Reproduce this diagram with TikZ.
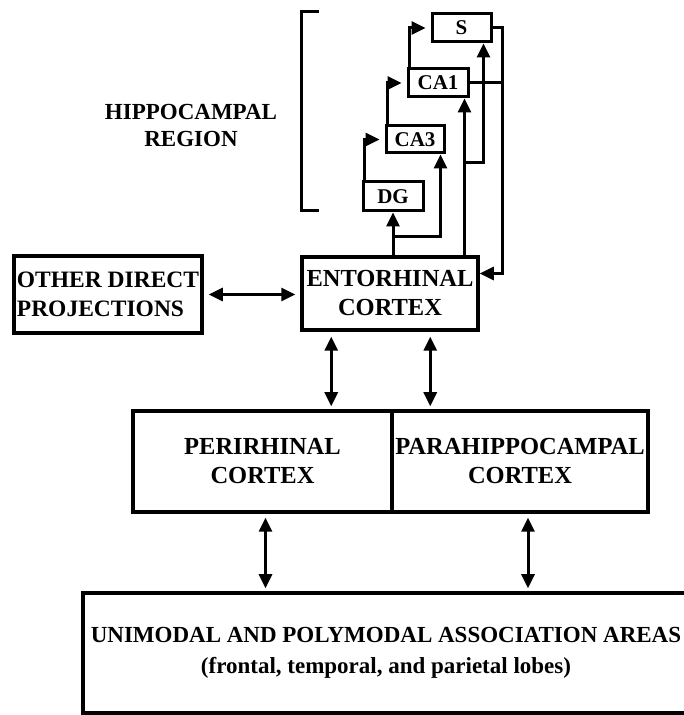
\documentclass[tikz,border=0pt]{standalone}
\usepackage{fontspec}
\setmainfont{Liberation Serif}
\usepackage{tikz}
\usetikzlibrary{arrows.meta}
\tikzstyle{block}=[draw, line width=3.5pt, inner sep=0pt, align=center, font=\fontsize{24.5}{29}\selectfont\bfseries]
\tikzstyle{sblock}=[block, line width=3pt, minimum width=59pt, minimum height=28pt, font=\fontsize{21}{24}\selectfont\bfseries]
\tikzstyle{link}=[line width=3pt]
\tikzstyle{arr}=[link, -{Triangle[length=14pt, width=13pt]}]
\tikzstyle{darr}=[link, {Triangle[length=14pt, width=13pt]}-{Triangle[length=14pt, width=13pt]}]

\begin{document}
\begin{tikzpicture}[x=1pt, y=1pt]
        \useasboundingbox (0, 0) rectangle (683, 715);
        \node[sblock] (S) at (461.5, 687) {S};
        \node[sblock, minimum width=60pt] (CA1) at (438, 632) {CA1};
        \node[sblock, minimum width=58pt, minimum height=27pt] (CA3) at (415, 575.5) {CA3};
        \node[sblock, minimum width=60pt, minimum height=29pt] (DG) at (393, 518.5) {DG};
        \node[block, minimum width=176pt, minimum height=73pt] (EC) at (390, 421.5) {ENTORHINAL\\CORTEX};
        \node[block, minimum width=188pt, minimum height=77pt, align=left, font=\fontsize{23.5}{28.5}\selectfont\bfseries] (OD) at (108, 420.5) {OTHER DIRECT\\PROJECTIONS};
        \node[block, minimum width=259pt, minimum height=101pt] (PRC) at (262.5, 253.5) {PERIRHINAL\\CORTEX};
        \node[block, minimum width=256pt, minimum height=101pt] (PHC) at (520, 253.5) {PARAHIPPOCAMPAL\\CORTEX};
        \node[block, minimum width=606pt, minimum height=120pt, font=\fontsize{23}{31}\selectfont\bfseries] (UA) at (386, 62) {UNIMODAL AND POLYMODAL ASSOCIATION AREAS\\(frontal, temporal, and parietal lobes)};
        \node[align=center, font=\fontsize{23}{27}\selectfont\bfseries] (HR) at (191, 589.5) {HIPPOCAMPAL\\REGION};
        \draw[link] (319, 703) -| (301, 504) -- (319, 504);
        \draw[arr, shorten >=5pt] ([xshift=3pt]DG.north west) |- (CA3.west);
        \draw[arr, shorten >=5pt] ([xshift=3pt]CA3.north west) |- (CA1.west);
        \draw[arr, shorten >=5pt] ([xshift=3pt]CA1.north west) |- (S.west);
        \path (DG.south |- EC.north) ++(0, 19) coordinate (dgfork);
        \path ([xshift=-5pt]CA1.south east) coordinate (ca1in);
        \path (ca1in |- EC.north) ++(0, 93) coordinate (ca1fork);
        \path (S.east) ++(10, 0) coordinate (sret);
        \path (EC.east) ++(0, 20) coordinate (ecin);
        \draw[arr] (DG.south |- EC.north) -- (DG.south);
        \draw[arr] (dgfork) -| ([xshift=-5pt]CA3.south east);
        \draw[arr] (ca1in |- EC.north) -- (ca1in);
        \draw[arr] (ca1fork) -| ([xshift=-9pt]S.south east);
        \draw[arr] (S.east) -- (sret) |- (ecin);
        \draw[link] (CA1.east) -- (CA1.east -| sret);
        \draw[darr, shorten <=5pt, shorten >=5pt] (OD.east) -- (OD.east -| EC.west);
        \path ([xshift=31pt]EC.south west) coordinate (ecprc);
        \path ([xshift=130pt]EC.south west) coordinate (ecphc);
        \draw[darr, shorten <=5pt, shorten >=3pt] (ecprc) -- (ecprc |- PRC.north);
        \draw[darr, shorten <=5pt, shorten >=3pt] (ecphc) -- (ecphc |- PHC.north);
        \path ([xshift=3pt]PRC.south) coordinate (prcout);
        \path ([xshift=8pt]PHC.south) coordinate (phcout);
        \draw[darr, shorten <=4pt, shorten >=3pt] (prcout) -- (prcout |- UA.north);
        \draw[darr, shorten <=4pt, shorten >=3pt] (phcout) -- (phcout |- UA.north);
    \end{tikzpicture}
\end{document}
